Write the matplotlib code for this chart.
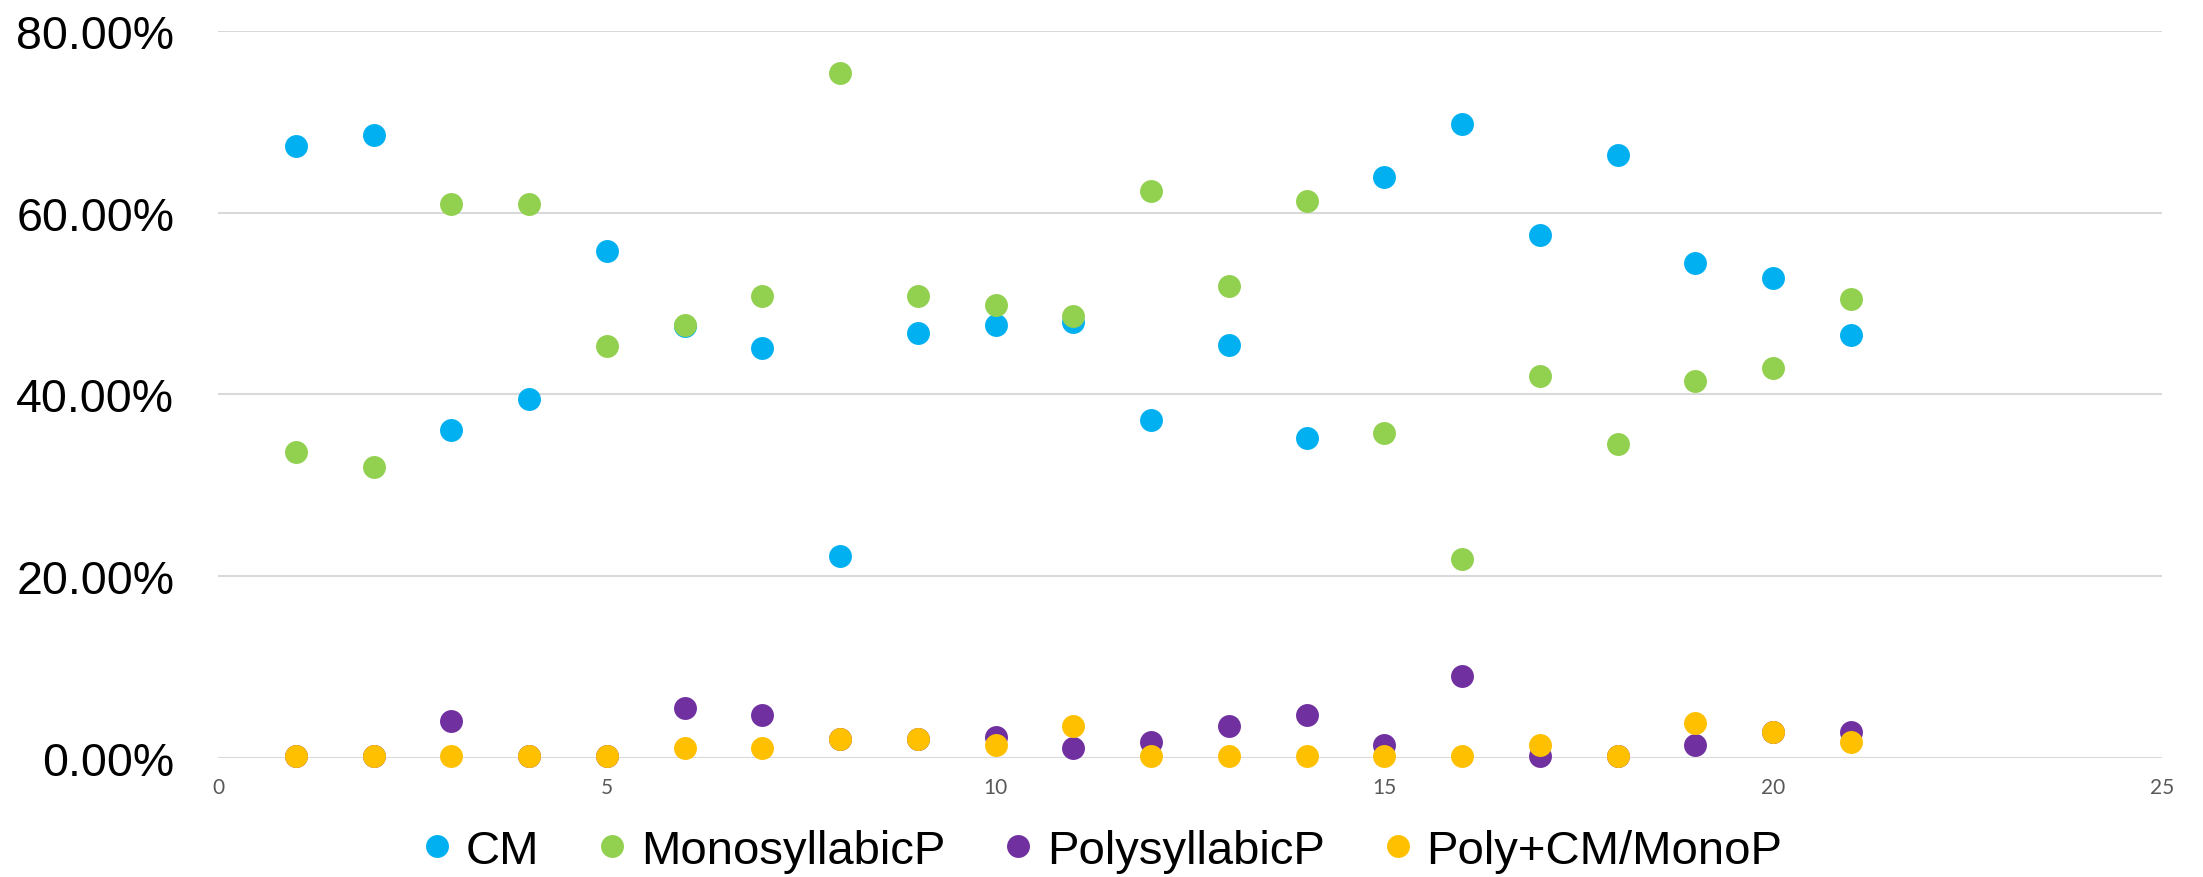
import numpy as np
import matplotlib
matplotlib.use("Agg")
import matplotlib.pyplot as plt
from matplotlib.ticker import FuncFormatter

# data (percent)
x = list(range(1, 22))
cm = [67.3, 68.6, 36.1, 39.5, 55.8, 47.5, 45.1, 22.2, 46.8, 47.7, 48.0,
      37.2, 45.4, 35.2, 63.9, 69.8, 57.5, 66.3, 54.5, 52.8, 46.6]
mono = [33.7, 32.0, 61.0, 61.0, 45.3, 47.6, 50.8, 75.4, 50.8, 49.9, 48.6,
        62.4, 51.9, 61.3, 35.8, 21.9, 42.0, 34.6, 41.5, 42.9, 50.5]
poly = [0.26, 0.26, 4.1, 0.26, 0.26, 5.5, 4.7, 2.1, 2.1, 2.35, 1.14,
        1.76, 3.5, 4.7, 1.43, 9.07, 0.26, 0.26, 1.43, 2.9, 2.9]
polycm = [0.26, 0.26, 0.26, 0.26, 0.26, 1.1, 1.1, 2.1, 2.1, 1.43, 3.5,
          0.26, 0.26, 0.26, 0.26, 0.26, 1.43, 0.26, 3.8, 2.9, 1.73]

names = ["CM", "MonosyllabicP", "PolysyllabicP", "Poly+CM/MonoP"]
colors = ["#00B0F0", "#92D050", "#7030A0", "#FFC000"]

fig = plt.figure(figsize=(22.03, 8.78), dpi=100)
ax = fig.add_axes([0.099, 0.1355, 0.8824, 0.8281])

for vals, name, col in zip([cm, mono, poly, polycm], names, colors):
    ax.plot(x, vals, linestyle="none", marker="o", markersize=16.5,
            markerfacecolor=col, markeredgecolor=col, markeredgewidth=0,
            label=name, clip_on=False)

ax.set_xlim(0, 25)
ax.set_ylim(0, 80)
ax.set_xticks([0, 5, 10, 15, 20, 25])
ax.set_yticks([0, 20, 40, 60, 80])
ax.yaxis.set_major_formatter(FuncFormatter(lambda v, p: "%.2f%%" % v))

for s in ax.spines.values():
    s.set_visible(False)
ax.yaxis.grid(color="#D9D9D9", linewidth=1.5)
ax.set_axisbelow(True)

ax.tick_params(axis="both", length=0)
ax.tick_params(axis="y", pad=31.5, labelsize=33.5, labelcolor="black")
ax.tick_params(axis="x", pad=14, labelsize=15, labelcolor="#595959")
for t in ax.get_yticklabels():
    t.set_fontfamily("Liberation Sans")
for t in ax.get_xticklabels():
    t.set_fontfamily("Lato")

fig.legend(loc="center", bbox_to_anchor=(0.5, 0.03), ncol=4, frameon=False,
           prop={"family": "Liberation Sans", "size": 34},
           handlelength=0.7, handletextpad=0.25, columnspacing=1.2,
           borderaxespad=0, borderpad=0)

fig.savefig("out.png", dpi=100)
